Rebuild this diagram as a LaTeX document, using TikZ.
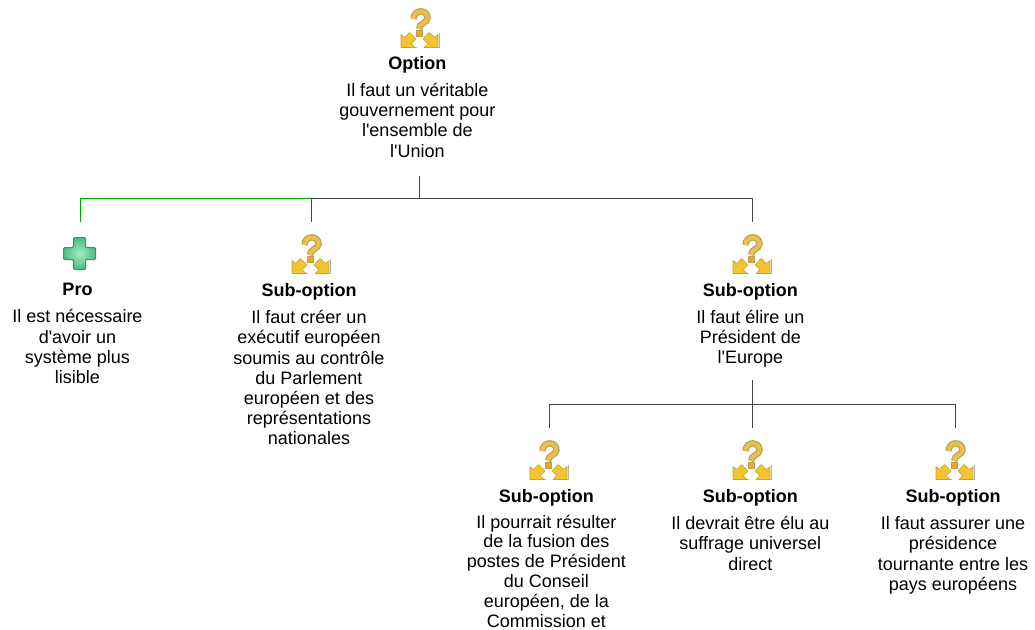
\documentclass[tikz,border=0pt]{standalone}
\usepackage{fontspec}
\setmainfont{Liberation Sans}[Ligatures=TeXOff]
\definecolor{qgold}{HTML}{E8C04A}
\definecolor{qedge}{HTML}{B8A25A}
\definecolor{agold}{HTML}{F2C530}
\definecolor{aedge}{HTML}{C6A23A}
\definecolor{dotor}{HTML}{EDA81E}
\definecolor{crossf}{HTML}{48BE80}
\definecolor{crossl}{HTML}{A6E8C4}
\definecolor{crossd}{HTML}{2F9A5E}
\tikzset{
  x=1pt,y=-1pt,
  wire/.style={line width=0.9pt,draw=black!72},
  prowire/.style={line width=0.9pt,draw=green!65!black},
  iconbox/.style={minimum width=44pt,minimum height=50pt,inner sep=0pt,outer sep=0pt,anchor=north},
  label/.style={anchor=north,align=center,inner xsep=0pt,inner ysep=0pt,font=\fontsize{18}{20.25}\selectfont},
  tightlabel/.style={label,font=\fontsize{18}{19.8}\selectfont},
  goldf/.style={fill=agold,draw=aedge,line width=0.6pt,line join=round},
  pics/optionicon/.style={code={
    \draw[black!30,line width=1.4pt] (-3,18.6)--(-9,18.6) (19.6,4)--(19.6,18.6)--(8,18.6);
    \draw[line width=6.4pt,draw=qedge,line cap=butt] (-6.5,-10) .. controls (-6.5,-20) and (7.5,-20) .. (7.5,-11) .. controls (7.5,-6) and (-1,-6) .. (-1,0);
    \draw[line width=4pt,draw=qgold,line cap=butt] (-6.5,-10) .. controls (-6.5,-20) and (7.5,-20) .. (7.5,-11) .. controls (7.5,-6) and (-1,-6) .. (-1,0);
    \fill[dotor,draw=qedge,line width=0.5pt] (-3.8,1.5) rectangle (1.8,7);
    \path[goldf] (-19,18.5)--(-19,5.5)--(-15.5,8.5)--(-10.5,3.5)--(-4,10)--(-9,14.5)--(-5,18.5)--cycle;
    \path[goldf] (18,18.5)--(18,5.5)--(14.5,8.5)--(9,3.5)--(3,10)--(8,14.5)--(4,18.5)--cycle;
  }},
  pics/proicon/.style={code={
    \shadedraw[line join=round,line width=1pt,draw=crossd,inner color=crossl,outer color=crossf,rounded corners=1.2pt]
      (-6,-16)--(6,-16)--(6,-6)--(16,-6)--(16,6)--(6,6)--(6,16)--(-6,16)--(-6,6)--(-16,6)--(-16,-6)--(-6,-6)--cycle;
  }},
}
\begin{document}
\begin{tikzpicture}
\useasboundingbox (0,0) rectangle (1035,629);
\fill[white] (0,0) rectangle (1035,629);

% icon boxes: their north is where each connector ends
\node[iconbox] (optI) at (420,4) {};
\node[iconbox] (proI) at (80,222) {};
\node[iconbox] (subAI) at (311,222) {};
\node[iconbox] (subBI) at (752,222) {};
\node[iconbox] (subCI) at (549,428) {};
\node[iconbox] (subDI) at (752,428) {};
\node[iconbox] (subEI) at (955,428) {};

\pic at (420,29) {optionicon};
\pic at (79.5,253.5) {proicon};
\pic at (311,255) {optionicon};
\pic at (752,255) {optionicon};
\pic at (549,461) {optionicon};
\pic at (752,461) {optionicon};
\pic at (955,461) {optionicon};

% texts
\node[label] (opt) at (417.3,56) {\textbf{Option}\\[7pt]Il faut un véritable\\gouvernement pour\\l'ensemble de\\l'Union};
\node[label] (pro) at (77.5,283) {\textbf{Pro}\\[7pt]Il est nécessaire\\d'avoir un\\système plus\\lisible};
\node[label] (subA) at (309,283) {\textbf{Sub-option}\\[7pt]Il faut créer un\\exécutif européen\\soumis au contrôle\\du Parlement\\européen et des\\représentations\\nationales};
\node[label] (subB) at (750.3,283) {\textbf{Sub-option}\\[7pt]Il faut élire un\\Président de\\l'Europe};
\node[tightlabel] (subC) at (546.3,489) {\textbf{Sub-option}\\[6pt]Il pourrait résulter\\de la fusion des\\postes de Président\\du Conseil\\européen, de la\\Commission et};
\node[label] (subD) at (750.3,489) {\textbf{Sub-option}\\[7pt]Il devrait être élu au\\suffrage universel\\direct};
\node[label] (subE) at (953,489) {\textbf{Sub-option}\\[7pt]Il faut assurer une\\présidence\\tournante entre les\\pays européens};

% buses
\coordinate (optOut) at (419,176);
\coordinate (busA) at (419,198);
\coordinate (subBOut) at (752,380);
\coordinate (busB) at (752,404);

\draw[wire] (optOut) -- (busA);
\draw[wire] (busA) -| (subAI.north);
\draw[wire] (busA) -| (subBI.north);
\draw[prowire] (subAI.north |- busA) -| (proI.north);
\draw[wire] (subBOut) -- (subDI.north);
\draw[wire] (busB) -| (subCI.north);
\draw[wire] (busB) -| (subEI.north);
\end{tikzpicture}
\end{document}
